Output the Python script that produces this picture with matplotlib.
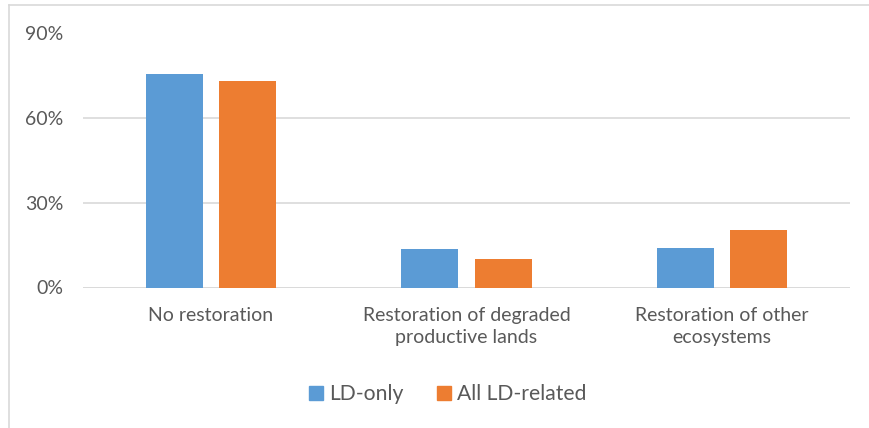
import matplotlib
matplotlib.use("Agg")
import matplotlib.pyplot as plt
from matplotlib.lines import Line2D
from matplotlib.patches import Patch
import numpy as np

plt.rcParams['font.family'] = ['Lato', 'DejaVu Sans']

categories = ["No restoration", "Restoration of degraded\nproductive lands", "Restoration of other\necosystems"]
ld_only = [75.8, 13.6, 14.0]
all_ld_related = [73.2, 10.0, 20.4]
series_names = ["LD-only", "All LD-related"]
yticks = [0, 30, 60, 90]
ytick_labels = ["0%", "30%", "60%", "90%"]

BLUE = "#5B9BD5"
ORANGE = "#ED7D31"
GRID = "#D9D9D9"
TEXT = "#595959"

W, H = 870, 428
fig = plt.figure(figsize=(W / 100, H / 100), dpi=100)

# outer chart frame (left and top edges)
fig.add_artist(Line2D([9.5 / W, 9.5 / W], [0, 1 - 5 / H], transform=fig.transFigure,
                      color=GRID, linewidth=1.2))
fig.add_artist(Line2D([9.5 / W, 1], [1 - 5 / H, 1 - 5 / H], transform=fig.transFigure,
                      color=GRID, linewidth=1.2))

ax = fig.add_axes([83 / W, 1 - 287.5 / H, (850 - 83) / W, (287.5 - 33.5) / H])

x = np.arange(len(categories))
bw = 0.223
off = 0.143
ax.bar(x - off, ld_only, bw, color=BLUE, zorder=3)
ax.bar(x + off, all_ld_related, bw, color=ORANGE, zorder=3)

ax.set_xlim(-0.5, len(categories) - 0.5)
ax.set_ylim(0, 90)
ax.set_yticks(yticks)
ax.set_yticklabels(ytick_labels)
ax.set_xticks(x)
ax.set_xticklabels(categories, linespacing=1.38)
ax.yaxis.grid(True, color=GRID, linewidth=1.2, zorder=0)
ax.set_axisbelow(True)
for s in ax.spines.values():
    s.set_visible(False)
ax.axhline(0, color=GRID, linewidth=1.2, zorder=2)
ax.tick_params(axis='y', length=0, pad=14, labelsize=14, labelcolor=TEXT)
ax.tick_params(axis='x', length=0, pad=14, labelsize=14, labelcolor=TEXT)

handles = [Patch(color=BLUE, label=series_names[0]), Patch(color=ORANGE, label=series_names[1])]
fig.legend(handles=handles, loc='center', bbox_to_anchor=(448 / W, 1 - 394 / H),
           ncol=2, frameon=False, fontsize=15.2, labelcolor=TEXT,
           handlelength=0.65, handleheight=0.65, handletextpad=0.3, columnspacing=1.6)

fig.savefig("out.png", dpi=100)
